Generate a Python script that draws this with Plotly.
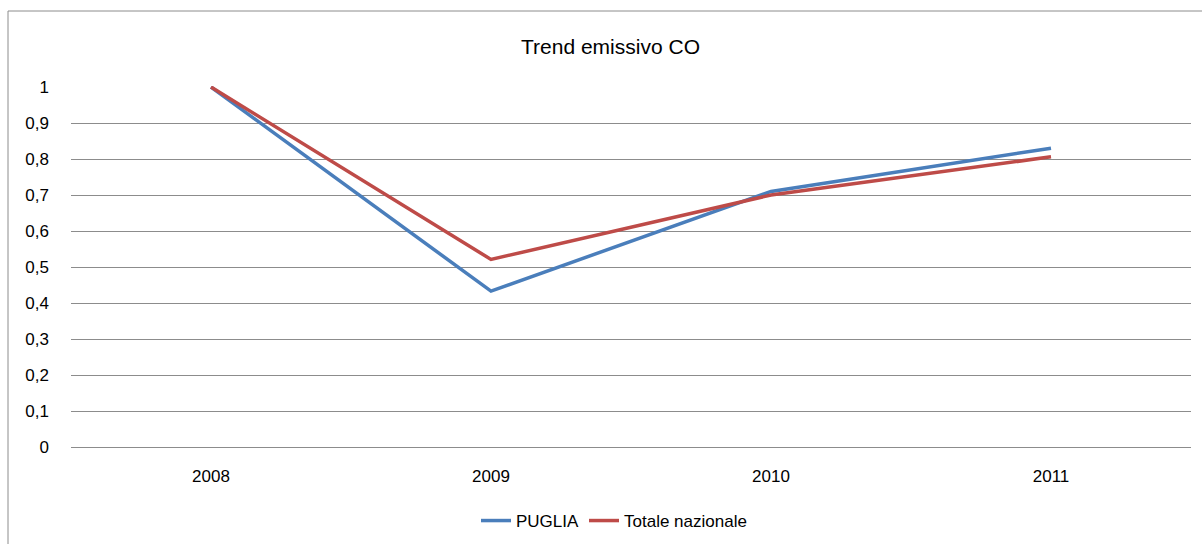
import plotly.graph_objects as go

years = ["2008", "2009", "2010", "2011"]
puglia = [1.0, 0.433, 0.71, 0.83]
totale = [1.0, 0.521, 0.70, 0.806]
y_ticks = [0, 0.1, 0.2, 0.3, 0.4, 0.5, 0.6, 0.7, 0.8, 0.9, 1]
y_labels = ["0", "0,1", "0,2", "0,3", "0,4", "0,5", "0,6", "0,7", "0,8", "0,9", "1"]

W, H = 1202, 544
L, R, T, B = 71, 1191, 86, 447
YMAX = 1.0 + (87 - T) / (B - 87)

fig = go.Figure()
fig.add_trace(go.Scatter(x=years, y=puglia, mode="lines", name="PUGLIA",
                         line=dict(color="#4A7EBB", width=3.5)))
fig.add_trace(go.Scatter(x=years, y=totale, mode="lines", name="Totale nazionale",
                         line=dict(color="#BE4B48", width=3.5)))

pw, ph = R - L, B - T
fig.add_shape(type="rect", xref="paper", yref="paper",
              x0=(8 - L) / pw, x1=(1210 - L) / pw,
              y0=(B - 552) / ph, y1=(B - 11) / ph,
              line=dict(color="#8c8c8c", width=1), fillcolor="rgba(0,0,0,0)", layer="below")

fig.update_layout(
    width=W, height=H,
    margin=dict(l=L, r=W - R, t=T, b=H - B),
    paper_bgcolor="white", plot_bgcolor="white",
    font=dict(family="Liberation Sans, Arial, sans-serif", size=17, color="#000"),
    title=dict(text="Trend emissivo CO", x=(515 + 706) / 2 / W, xref="container", xanchor="center",
               y=1 - 47 / H, yref="container", yanchor="middle",
               font=dict(size=21, color="#000")),
    showlegend=True,
    legend=dict(orientation="h", x=614 / W, xref="container", xanchor="center",
                y=1 - 521 / H, yref="container", yanchor="middle",
                font=dict(size=17), bgcolor="rgba(0,0,0,0)"),
    xaxis=dict(type="category", range=[-0.5, 3.5], showgrid=False, showline=False,
               ticks="", ticklabelstandoff=17, fixedrange=True),
    yaxis=dict(range=[0, YMAX], tickvals=y_ticks, ticktext=y_labels,
               showgrid=True, gridcolor="#8c8c8c", gridwidth=1,
               zeroline=True, zerolinecolor="#8c8c8c", zerolinewidth=1,
               showline=False, ticks="", ticklabelstandoff=21),
)

fig.write_html("out.html", config={"displayModeBar": False},
               post_script="document.body.style.margin='0';")
